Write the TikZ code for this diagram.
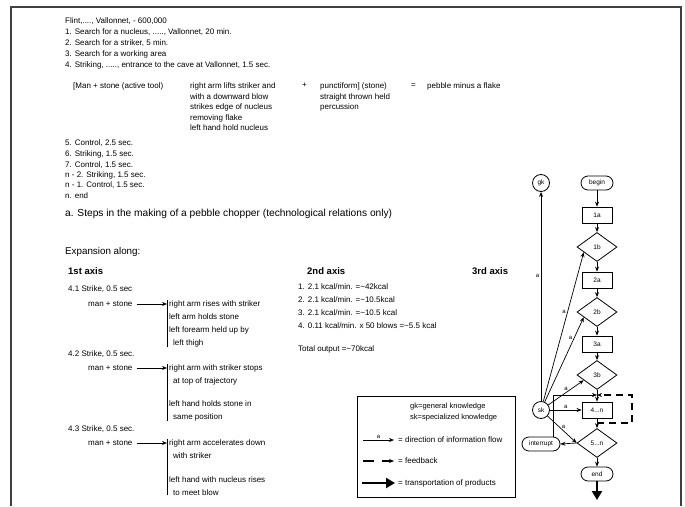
\documentclass[tikz,border=0pt]{standalone}
\usepackage{fontspec}
\setmainfont{Liberation Sans}
\usetikzlibrary{positioning,arrows.meta,shapes.geometric,calc}

\begin{document}
\begin{tikzpicture}[
    x=1pt,y=-1pt,>={Stealth[length=5pt,width=4pt]},
    txt/.style={anchor=north west,inner sep=0pt,align=left,
      font=\fontsize{8}{11}\selectfont},
    head/.style={anchor=west,inner sep=0pt,font=\fontsize{9.8}{11}\selectfont},
    axis/.style={anchor=west,inner sep=0pt,
      font=\fontsize{9.5}{11}\selectfont\bfseries},
    sub/.style={anchor=west,inner sep=0pt,font=\fontsize{8}{9}\selectfont},
    effect/.style={anchor=north west,inner xsep=2pt,inner ysep=0pt,
      align=left,font=\fontsize{8}{13}\selectfont},
    info/.style={->,line width=0.7pt},
    feedback/.style={->,line width=1.1pt,dash pattern=on 8pt off 5pt},
    product/.style={-{Triangle[length=9pt,width=10pt]},line width=2.2pt},
    proc/.style={draw,line width=0.8pt,minimum width=30pt,minimum height=16pt,
      inner sep=0pt,font=\fontsize{6.5}{8}\selectfont},
    decide/.style={diamond,draw,line width=0.8pt,minimum width=40pt,
      minimum height=29pt,inner sep=0pt,font=\fontsize{6.5}{8}\selectfont},
    term/.style={draw,rounded corners=7pt,line width=0.8pt,minimum width=32pt,
      minimum height=14pt,inner sep=1pt,font=\fontsize{6.5}{8}\selectfont},
    know/.style={circle,draw,line width=0.8pt,minimum size=17pt,inner sep=0pt,
      font=\fontsize{6.5}{8}\selectfont},
    lab/.style={font=\fontsize{6}{7}\selectfont,inner sep=1.5pt}
]
\useasboundingbox (0,0) rectangle (685,506);
\draw[black!75,line width=1.3pt] (11,506) -- (11,7) -- (681,7) -- (681,506);

% a. steps
\node[txt] (source) at (65,18)
  {Flint,...., Vallonnet, - 600,000\\
   1. Search for a nucleus, ....., Vallonnet, 20 min.\\
   2. Search for a striker, 5 min.\\
   3. Search for a working area\\
   4. Striking, ....., entrance to the cave at Vallonnet, 1.5 sec.};
\node[txt] (tool) at (73,83) {[Man + stone (active tool)};
\node[txt,font=\fontsize{8}{10.5}\selectfont] (action) at (190,83)
  {right arm lifts striker and\\with a downward blow\\strikes edge of nucleus\\
   removing flake\\left hand hold nucleus};
\node[txt] (plus) at (302,83) {+};
\node[txt,font=\fontsize{8}{10.5}\selectfont] (kind) at (320,83)
  {punctiform] (stone)\\straight thrown held\\percussion};
\node[txt] (equals) at (411,83) {=};
\node[txt] (result) at (427,83) {pebble minus a flake};
\node[txt,font=\fontsize{8}{10.5}\selectfont] (steps) at (65,140)
  {5. Control, 2.5 sec.\\6. Striking, 1.5 sec.\\7. Control, 1.5 sec.\\
   n - 2. Striking, 1.5 sec.\\n - 1. Control, 1.5 sec.\\n. end};
\node[head,font=\fontsize{10.2}{11}\selectfont] (caption) at (65,214)
  {a. Steps in the making of a pebble chopper (technological relations only)};

% expansion
\node[head] (expansion) at (65,252) {Expansion along:};
\node[axis] (axis1) at (68,271) {1st axis};
\node[axis] (axis2) at (307,271) {2nd axis};
\node[axis] (axis3) at (472,271) {3rd axis};

\node[sub] (strike1) at (68,289) {4.1 Strike, 0.5 sec};
\node[sub] (ms1) at (88,304) {man + stone};
\node[effect] (r1) at (167,300)
  {right arm rises with striker\\left arm holds stone\\left forearm held up by\\
   \hspace*{4pt}left thigh};
\node[sub] (strike2) at (68,354) {4.2 Strike, 0.5 sec.};
\node[sub] (ms2) at (88,368) {man + stone};
\node[effect] (r2) at (167,364)
  {right arm with striker stops\\\hspace*{4pt}at top of trajectory\\[10pt]
   left hand holds stone in\\\hspace*{4pt}same position};
\node[sub] (strike3) at (68,429) {4.3 Strike, 0.5 sec.};
\node[sub] (ms3) at (88,443) {man + stone};
\node[effect] (r3) at (167,439)
  {right arm accelerates down\\\hspace*{4pt}with striker\\[11pt]
   left hand with nucleus rises\\\hspace*{4pt}to meet blow};
\foreach \m/\r in {ms1/r1,ms2/r2,ms3/r3}{
  \draw[info,shorten <=4pt] (\m.east) -- (\m -| \r.west);
  \draw[line width=0.8pt] (\r.north west) -- (\r.south west);
}

\node[txt,font=\fontsize{8}{13}\selectfont] (energy) at (298,283)
  {1. 2.1 kcal/min. =\textasciitilde42kcal\\
   2. 2.1 kcal/min. =\textasciitilde10.5kcal\\
   3. 2.1 kcal/min. =\textasciitilde10.5 kcal\\
   4. 0.11 kcal/min. x 50 blows =\textasciitilde5.5 kcal};
\node[txt] (total) at (298,345) {Total output =\textasciitilde70kcal};

% legend
\node[draw,line width=0.9pt,anchor=north west,inner sep=0pt,
  minimum width=158pt,minimum height=101pt] (legend) at (357,396) {};
\node[txt,font=\fontsize{7.5}{10.5}\selectfont] (abbr) at (410,403)
  {gk=general knowledge\\sk=specialized knowledge};
\coordinate (l1a) at (363,440); \coordinate (l1b) at (394,440);
\coordinate (l2a) at (363,461); \coordinate (l2b) at (394,461);
\coordinate (l3a) at (362,483); \coordinate (l3b) at (395,483);
\draw[info] (l1a) -- node[lab,above]{a} (l1b);
\draw[feedback,dash pattern=on 11pt off 8pt] (l2a) -- (l2b);
\draw[product] (l3a) -- (l3b);
\node[sub] (key1) at (398,440) {= direction of information flow};
\node[sub] (key2) at (398,461) {= feedback};
\node[sub] (key3) at (398,483) {= transportation of products};

% 3rd axis flow chart
\node[term] (begin) at (597,183) {begin};
\node[proc] (s1a) at (597,215) {1a};
\node[decide] (s1b) at (597,247) {1b};
\node[proc] (s2a) at (597,280) {2a};
\node[decide] (s2b) at (597,312) {2b};
\node[proc] (s3a) at (597,344) {3a};
\node[decide] (s3b) at (597,375) {3b};
\node[proc] (s4n) at (597,410) {4...n};
\node[decide] (s5n) at (597,443) {5...n};
\node[term] (end) at (597,474) {end};
\node[know] (gk) at (541,183) {gk};
\node[know] (sk) at (541,410) {sk};
\node[term,minimum width=38pt] (intr) at (541,444) {interrupt};
\coordinate (join) at (597,395);
\coordinate (fbout) at (597,423);
\coordinate (fbdown) at (632,423);
\coordinate (fbup) at (632,395);
\coordinate (sink) at (597,500);

\foreach \a/\b in {begin/s1a,s1a/s1b,s1b/s2a,s2a/s2b,s2b/s3a,s3a/s3b,
  s3b/s4n,s4n/s5n,s5n/end}
  \draw[info] (\a) -- (\b);
\draw[product] (end.south) -- (sink);

\draw[info] (sk) -- node[lab,left,pos=0.6]{a} (gk);
\draw[info] (sk) -- node[lab,left,pos=0.6]{a} ($(s1b.west)!0.35!(s1b.south)$);
\draw[info] (sk) -- node[lab,left,pos=0.75]{a} ($(s2b.west)!0.35!(s2b.south)$);
\draw[info] (sk) -- node[lab,above,pos=0.5]{a} ($(s3b.west)!0.35!(s3b.south)$);
\draw[info] (sk) -- node[lab,above]{a} (s4n);
\draw[info] (sk) -- node[lab,above,pos=0.55]{a} (s5n.west);
\draw[info] (s5n.west) -- (intr.east);
\draw[info] ([xshift=12pt]intr.north) |- (join);
\draw[feedback,dash pattern=on 7pt off 5pt] (fbout) -- (fbdown) -- (fbup) -- (join);
\end{tikzpicture}
\end{document}
